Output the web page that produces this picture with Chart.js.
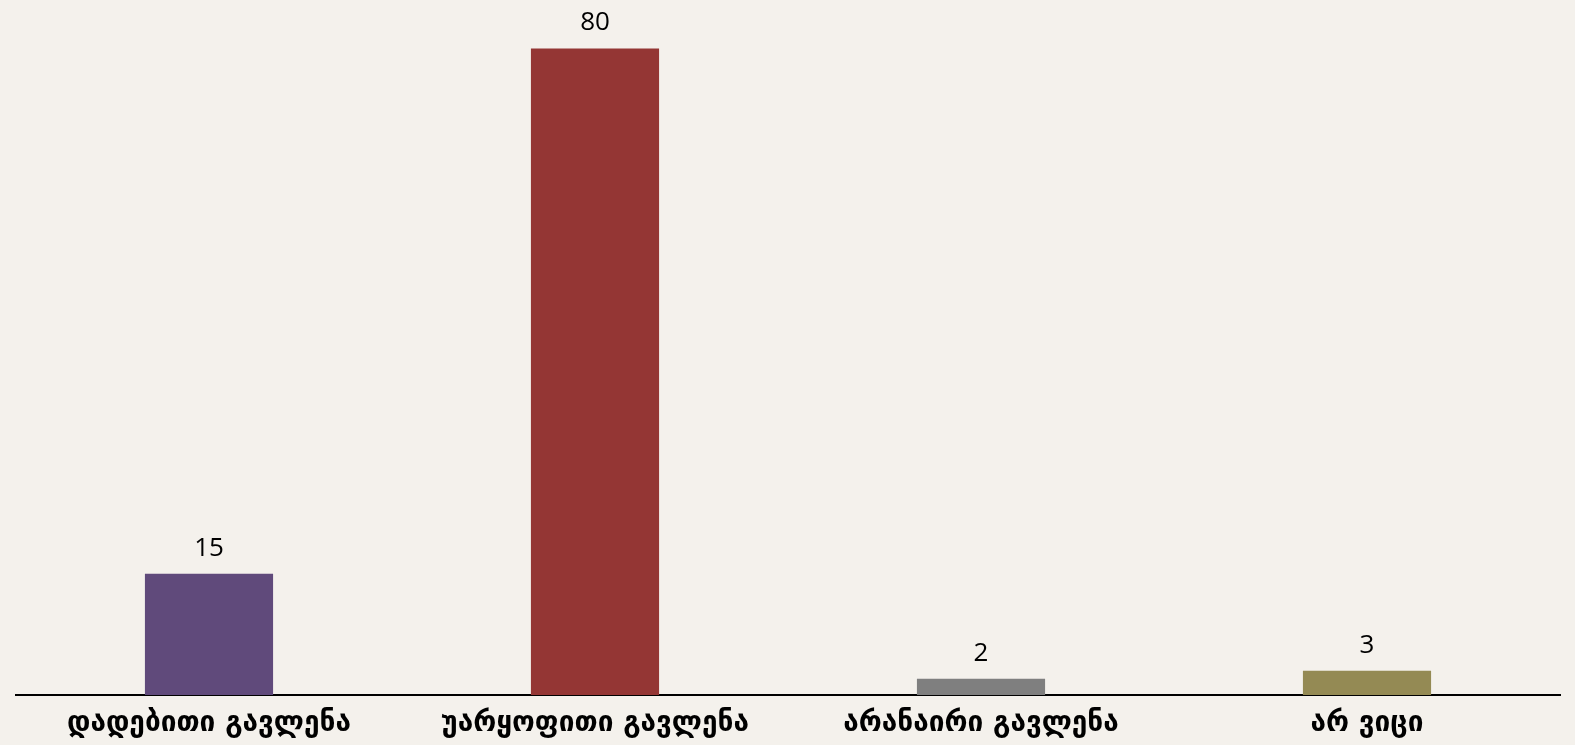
<!DOCTYPE html>
<html>
<head>
<meta charset="utf-8">
<script src="https://cdn.jsdelivr.net/npm/chart.js@4"></script>
<style>
  html, body { margin: 0; padding: 0; background: #F4F1EC; }
  #wrap { width: 1575px; height: 745px; position: relative; }
</style>
</head>
<body>
<div id="wrap"><canvas id="chart"></canvas></div>
<script>
const categories = ['დადებითი გავლენა', 'უარყოფითი გავლენა', 'არანაირი გავლენა', 'არ ვიცი'];
const values = [15, 80, 2, 3];
const barColors = ['#604A7B', '#943634', '#7F7F7F', '#948A54'];

// draw the value above every bar
const valueLabels = {
  id: 'valueLabels',
  afterDatasetsDraw(chart) {
    const ctx = chart.ctx;
    const meta = chart.getDatasetMeta(0);
    ctx.save();
    ctx.font = '26px "Open Sans", "Liberation Sans", sans-serif';
    ctx.fillStyle = '#000';
    ctx.textAlign = 'center';
    ctx.textBaseline = 'alphabetic';
    meta.data.forEach(function(bar, i) {
      ctx.fillText(values[i], bar.x, bar.y - 18);
    });
    ctx.restore();
  }
};

const ctx = document.getElementById('chart').getContext('2d');
new Chart(ctx, {
  type: 'bar',
  data: {
    labels: categories,
    datasets: [{
      data: values,
      backgroundColor: barColors,
      borderWidth: 0,
      categoryPercentage: 1,
      barPercentage: 0.332
    }]
  },
  options: {
    responsive: true,
    maintainAspectRatio: false,
    animation: false,
    layout: { padding: { left: 16, right: 15, top: 0, bottom: 0 } },
    plugins: {
      legend: { display: false },
      tooltip: { enabled: false }
    },
    scales: {
      x: {
        grid: { display: false, drawTicks: false },
        border: { display: true, color: '#000', width: 2 },
        ticks: {
          color: '#000',
          padding: 12,
          maxRotation: 0,
          font: { family: '"DejaVu Sans", sans-serif', size: 28, weight: 'bold' }
        },
        afterFit(scale) { scale.height = 50; }
      },
      y: {
        display: false,
        min: 0,
        max: 86
      }
    }
  },
  plugins: [valueLabels]
});
</script>
</body>
</html>
